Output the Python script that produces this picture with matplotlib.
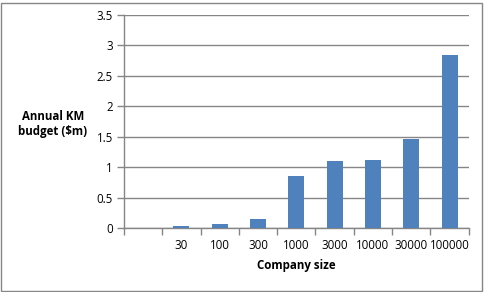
import matplotlib
matplotlib.use("Agg")
import matplotlib.pyplot as plt
from matplotlib.patches import Rectangle

categories = ["", "30", "100", "300", "1000", "3000", "10000", "30000", "100000"]
values = [0, 0.04, 0.075, 0.15, 0.86, 1.11, 1.12, 1.47, 2.84]

W, H = 485, 292
fig = plt.figure(figsize=(W / 100, H / 100), dpi=100)
plt.rcParams['font.family'] = ['Open Sans', 'DejaVu Sans']

fs = 8.3
ax = fig.add_axes([124 / W, (H - 228.3) / H, (468.7 - 124) / W, (228.3 - 15) / H])
gc = '#868686'
x = list(range(len(categories)))
ax.bar(x, values, width=0.42, color='#4F81BD', zorder=3)
ax.set_xlim(-0.5, len(categories) - 0.5)
ax.set_ylim(0, 3.5)
ax.set_yticks([0, 0.5, 1, 1.5, 2, 2.5, 3, 3.5])
ax.set_yticklabels(['0', '0.5', '1', '1.5', '2', '2.5', '3', '3.5'], fontsize=fs)
ax.yaxis.grid(True, color=gc, linewidth=1, zorder=0)
ax.set_axisbelow(True)

ax.set_xticks([i - 0.5 for i in range(len(categories) + 1)])
ax.set_xticklabels([])
ax.set_xticks(x, minor=True)
ax.set_xticklabels(categories, minor=True, fontsize=fs)
ax.tick_params(axis='x', which='minor', length=0, pad=8)
ax.tick_params(axis='x', which='major', length=5, color=gc, width=1)
ax.tick_params(axis='y', length=5, color=gc, width=1, pad=3)

for s in ['top', 'right']:
    ax.spines[s].set_visible(False)
for s in ['left', 'bottom']:
    ax.spines[s].set_color(gc)
    ax.spines[s].set_linewidth(1)

ax.set_xlabel('Company size', fontsize=fs, fontweight='bold', labelpad=5)
fig.text(53 / W, 1 - 124 / H, 'Annual KM\nbudget ($m)', fontsize=fs, fontweight='bold',
         ha='center', va='center', linespacing=1.25)

fig.add_artist(Rectangle((1.5 / W, 1.5 / H), (W - 4) / W, (H - 4) / H, transform=fig.transFigure,
                         fill=False, edgecolor=gc, linewidth=1))

fig.savefig('out.png', dpi=100, facecolor='white')
